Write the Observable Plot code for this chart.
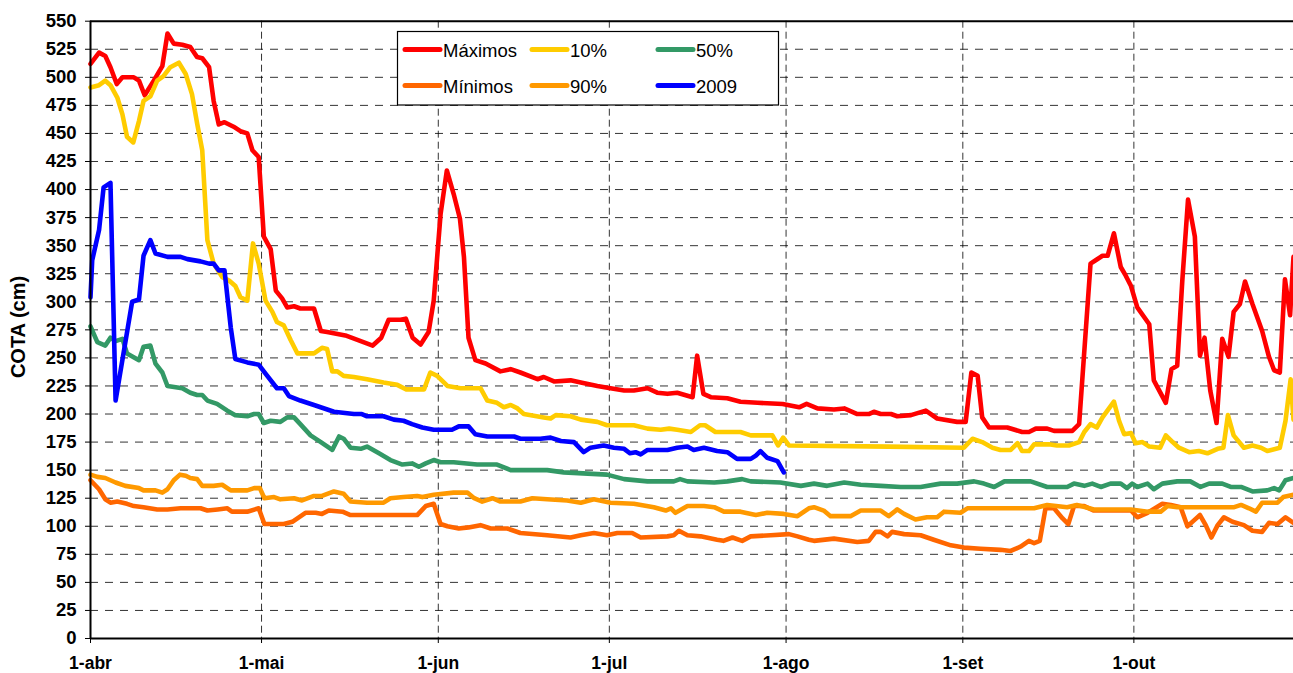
<!DOCTYPE html>
<html>
<head>
<meta charset="utf-8">
<script src="https://cdn.jsdelivr.net/npm/d3@7"></script>
<script src="https://cdn.jsdelivr.net/npm/@observablehq/plot@0.6"></script>
<style>
  html, body { margin: 0; padding: 0; background: #fff; }
  #chart svg { display: block; }
</style>
</head>
<body>
<div id="chart"></div>
<script>
// Day offsets counted from 1 April
const monthDays = [0, 30, 61, 91, 122, 153, 183];
const monthLabels = ["1-abr", "1-mai", "1-jun", "1-jul", "1-ago", "1-set", "1-out"];
const yTicks = d3.range(0, 551, 25);

const maxDays = [0,1.5,2.6,3.5,4.6,5.6,7.6,8.5,9.5,11.1,12.6,13.5,14.6,16.1,17.5,18.7,19.6,20.8,21.6,22.5,23.5,25.1,26.3,27.5,28.4,29.5,30.4,31.6,32.5,33.6,34.5,35.7,36.8,39.2,40.4,41.5,44.7,47.4,49.5,51,52.3,54.4,55.3,56.5,57.9,59.3,60.2,61.4,62.5,63.7,64.8,65.5,66.3,67.5,69.3,71.9,73.7,75.4,78.4,79.5,81.3,84.2,86,88.9,91.2,93.6,95.3,97.7,99.4,101.2,102.9,105.6,106.4,107.5,108.8,111.7,114,117,121.4,124.3,125.6,127.5,130.4,132.2,134.5,136.5,137.4,138.6,140.4,141.5,143.9,146.5,148.5,152,153.5,154.5,155.6,156.4,157.6,160.8,163.4,164.6,165.8,167.8,169,172.2,173.4,175.4,176.3,177.5,178.4,179.5,180.7,181.6,182.5,183.6,185.7,186.5,188.6,189.6,190.6,191.5,192.5,193.7,194.6,195.4,196.4,197.5,198.5,199.6,200.5,201.6,202.5,203.8,205.5,206.7,207.6,208.6,209.5,210.4,211];
const maxVals = [512,522,519,509,494,500,500,497,484,497,510,539,530,529,527,518,517,509,479,458,460,456,452,450,435,429,358,347,310,303,295,296,294,294,274,273,270,265,261,268,284,284,285,268,262,273,301,378,417,396,374,340,268,248,245,238,240,237,231,233,229,230,228,225,223,221,221,223,219,218,219,215,252,218,215,214,211,210,209,206,209,205,204,205,200,200,202,200,200,198,199,203,196,193,193,237,234,197,188,188,184,184,187,187,185,185,191,334,337,341,341,361,331,323,314,295,280,230,210,240,243,319,391,358,252,268,221,192,267,251,291,298,318,298,274,251,239,237,320,288,340];

const p10Days = [0,1.5,2.6,3.5,4.7,5.6,6.4,7.5,8.5,9.3,10.5,11.7,12.8,14,15.5,16.7,17.8,18.7,19.6,20.5,21.6,23.1,24.3,25.4,26.3,27.5,28.5,29.5,30.7,31.9,32.7,33.9,35.1,36.3,39.2,40.6,41.5,42.4,43.3,44.4,46.2,48.5,51.4,53.8,55.3,58.5,59.6,60.8,62.6,64.9,68.4,69.6,71.3,72.5,73.7,74.9,76,79.5,80.7,81.6,84.2,86,88.9,90.6,95.3,97.7,100,101.5,102.9,105.3,106.9,107.8,109.6,114,115.8,119.6,120.6,121.5,122.5,140,153.2,154.7,156.4,158.2,159.6,161.4,162.6,163.4,164.6,165.5,168.1,169.5,171.6,173.4,174.3,175.4,176.5,177.5,179.5,180.4,181.3,182.5,183.3,184.5,185.7,187.6,188.6,189.8,190.9,192.7,194.4,195.9,197.7,198.7,199.5,200.5,202.3,203.8,205.3,206.4,208.6,209.6,210.5,211];
const p10Vals = [491,493,497,493,482,467,447,442,461,479,483,497,501,509,513,503,485,459,435,355,334,322,319,314,304,301,352,334,301,291,282,279,266,254,254,259,258,238,238,234,233,231,228,226,222,222,237,234,225,223,223,212,210,206,208,205,200,197,196,199,198,195,193,190,190,187,186,187,186,184,190,190,184,184,181,181,172,179,172,171,170,178,175,170,168,168,174,167,167,173,173,172,172,175,184,191,188,197,211,194,182,183,174,175,171,170,181,175,170,166,167,165,169,170,199,181,170,172,170,167,170,194,231,195];

const p50Days = [0,1.2,2.6,3.5,4.4,5.6,6.4,8.5,9.3,10.5,11.4,12.6,13.5,16.1,17.5,18.7,19.6,20.5,22.2,24,25.4,27.5,28.7,29.5,30.4,31.6,33.3,34.5,35.7,36.8,38.6,40.4,42.4,43.6,44.4,45.6,47.4,48.5,50.6,52.6,54.7,56.4,57.6,58.8,60.2,61.4,63.7,67.8,71.3,73.7,80.1,83,90.6,93.6,97.7,102.3,103.4,104.7,109.4,111.7,114.3,115.8,121,124.6,126.9,129.2,132.2,135.1,138.6,142.1,145.6,149.1,152,155,156.7,158.5,160.3,164.9,167.8,171.3,172.5,174.3,175.7,177.2,178.9,180.7,181.8,182.7,183.6,185.4,186.5,188,190.6,192.9,194.7,196.2,198.5,200,201.8,203.8,206.4,207.6,208.5,209.6,211];
const p50Vals = [278,264,261,268,265,267,254,248,260,261,245,237,225,223,219,217,217,212,209,203,199,198,200,200,192,194,193,197,197,191,181,175,168,180,178,170,169,171,165,159,155,156,153,156,159,157,157,155,155,150,150,148,146,142,140,140,142,140,139,140,142,140,139,136,138,136,139,137,136,135,135,138,138,140,138,135,140,140,135,135,138,136,138,135,138,138,134,138,135,138,133,138,140,140,135,138,138,135,135,131,132,134,132,141,143];

const p90Days = [0,1.2,2.6,4.4,6.1,8.5,9.3,11.4,12.6,13.5,14.6,15.7,16.7,17.5,18.7,19.6,21.6,23.1,24.6,27.5,28.7,29.7,30.5,32.2,33.3,35.7,37.1,39.2,40.6,42.7,44.4,45.6,48.5,51.4,52.6,54.9,57.3,58.2,60.2,63.7,66.1,67.3,68.7,70.5,71.9,75.4,77.5,80.1,83.6,86,88.3,91.2,95.3,98.8,100.9,101.8,102.6,104.7,107.6,109.4,111.1,114,116.7,118.7,121.6,124,126,126.9,128.6,129.8,133.3,135.1,138.6,140,141.5,142.7,144.7,146.7,148.5,149.7,152.6,153.8,157.3,165.5,167.8,171.3,173,176,182.5,185.4,187.7,188.9,190.6,193.5,200.6,201.8,203.2,204.4,205.5,208.2,209.2,211];
const p90Vals = [146,144,143,139,136,134,132,132,130,133,141,146,145,143,142,136,136,137,132,132,134,134,125,126,124,125,123,127,127,131,129,122,121,121,125,126,127,126,128,130,130,125,122,125,122,122,125,124,123,121,124,121,120,117,114,116,112,118,118,117,113,113,110,112,111,109,116,117,114,109,109,114,114,109,115,111,106,108,108,113,112,116,116,116,119,117,119,115,115,113,113,118,117,117,117,119,116,113,121,121,126,128];

const minDays = [0,1.5,2.6,3.5,4.7,6.4,7.6,9.3,11.7,13.5,15.8,19.3,20.5,22.3,24,24.8,27.5,29.5,30.5,33.9,35.4,37.7,39.5,40.6,41.8,44.2,45.6,57.3,58.8,60.2,61.4,62.6,64.6,66.3,68.4,70.2,73.1,75.4,80.1,84.2,86,88.3,90.6,92.4,95,96.5,101.2,102.3,103.2,104.7,107,109.9,111,112.6,114.3,115.8,119.3,122.5,124,126,126.9,130.4,134.5,136.5,137.7,138.6,139.8,140.6,142.7,145.6,147.9,150.9,153.2,156.1,159.6,161.4,163.2,164.6,165.5,166.5,167.5,169,170.5,171.5,172.5,174.3,176,182.5,183.6,185.4,188,189.5,191.2,192.4,193.5,194.6,195.6,196.6,197.7,198.8,200.3,202.3,203.8,205.5,206.7,208.2,209.6,211];
const minVals = [141,133,124,121,122,120,118,117,115,115,116,116,114,115,116,113,113,116,102,102,104,112,112,111,114,113,110,110,118,120,102,100,98,99,101,98,98,94,92,90,92,94,92,94,94,90,91,92,96,92,91,88,87,90,87,91,92,93,91,88,87,89,86,87,95,95,91,95,93,92,88,83,81,80,79,78,82,87,85,87,116,116,107,102,118,118,114,114,108,112,120,119,117,100,105,110,101,90,101,108,104,101,96,95,103,102,108,103];

const y2009Days = [0,0.3,1.5,2.3,3.5,4.4,7.3,8.5,9.3,10.5,11.4,13.5,15.8,17,19.3,20.8,21.6,22.5,23.5,24.6,25.4,27.5,29.5,30.7,32.7,33.9,34.8,36.8,39.2,42.7,46.2,47.6,48.5,51.4,53.2,54.9,56.4,58.2,60.2,63.4,64.6,66.3,67.5,69.6,74.3,75.4,78.9,80.7,82.5,84.8,86.5,87.7,90,91.8,93.6,94.6,95.6,96.5,97.7,101.2,102.9,104.7,105.8,107.6,109.9,111.7,113.4,115.8,116.7,117.5,118.7,120.5,121.6];
const y2009Vals = [304,337,364,402,406,212,300,302,341,355,343,340,340,338,336,334,334,328,328,277,249,246,244,236,223,223,216,212,208,202,200,200,198,198,195,194,191,188,186,186,189,189,182,180,180,178,178,179,176,175,166,170,172,170,169,165,166,164,168,168,170,171,168,170,167,166,160,160,163,167,161,158,148];

const seriesNames = ["Máximos", "Mínimos", "10%", "90%", "50%", "2009"];
const seriesColors = ["#FF0000", "#FF6600", "#FFCC00", "#FF9900", "#339966", "#0000FF"];

function rows(days, vals) { return days.map((d, i) => ({day: d, v: vals[i]})); }
const lineOpts = (color) => ({x: "day", y: "v", stroke: color, strokeWidth: 4.6, strokeLinejoin: "round", strokeLinecap: "round"});

const chart = Plot.plot({
  width: 1293,
  height: 673,
  marginLeft: 90,
  marginRight: 0,
  marginTop: 20.7,
  marginBottom: 35,
  x: {domain: [0, 211], axis: null},
  y: {domain: [0, 550], axis: null},
  style: {fontFamily: "'Liberation Sans', Arial, sans-serif", background: "#fff", color: "#000"},
  marks: [
    Plot.gridY(yTicks.filter(v => v > 0 && v < 550), {stroke: "#000", strokeOpacity: 0.8, strokeWidth: 1, strokeDasharray: "8,7"}),
    Plot.gridX(monthDays.slice(1), {stroke: "#000", strokeOpacity: 0.8, strokeWidth: 1, strokeDasharray: "7,4"}),
    Plot.line(rows(minDays, minVals), lineOpts(seriesColors[1])),
    Plot.line(rows(maxDays, maxVals), lineOpts(seriesColors[0])),
    Plot.line(rows(p90Days, p90Vals), lineOpts(seriesColors[3])),
    Plot.line(rows(p10Days, p10Vals), lineOpts(seriesColors[2])),
    Plot.line(rows(p50Days, p50Vals), lineOpts(seriesColors[4])),
    Plot.line(rows(y2009Days, y2009Vals), lineOpts(seriesColors[5])),
    Plot.ruleY([550], {stroke: "#000", strokeWidth: 2}),
    Plot.ruleY([0], {stroke: "#000", strokeWidth: 2}),
    Plot.ruleX([0], {stroke: "#000", strokeWidth: 2}),
    Plot.axisY(yTicks, {tickSize: 5, tickPadding: 9, fontSize: 18.5, fontWeight: "bold", label: null, stroke: "#000"}),
    Plot.axisX(monthDays, {tickSize: 5, tickPadding: 13, fontSize: 17.5, fontWeight: "bold", label: null,
      tickFormat: d => monthLabels[monthDays.indexOf(d)]})
  ]
});

document.getElementById("chart").appendChild(chart);

const svg = d3.select(chart);
svg.selectAll("text").attr("font-weight", "bold").attr("fill", "#000");

// Y axis title
svg.append("text")
  .attr("transform", "translate(25,327) rotate(-90)")
  .attr("text-anchor", "middle")
  .attr("font-family", "'Liberation Sans', Arial, sans-serif")
  .attr("font-size", 20)
  .attr("font-weight", "bold")
  .attr("fill", "#000")
  .text("COTA (cm)");

// Legend (2 rows x 3 columns, column-major)
const lg = svg.append("g").attr("font-family", "'Liberation Sans', Arial, sans-serif").attr("text-anchor", "start");
lg.append("rect").attr("x", 397.5).attr("y", 31.5).attr("width", 381).attr("height", 73.5)
  .attr("fill", "#fff").attr("stroke", "#000").attr("stroke-width", 1.2);
const colX = [405, 532, 658];
const rowY = [49.5, 85.5];
seriesNames.forEach((name, i) => {
  const c = Math.floor(i / 2), r = i % 2;
  const x0 = colX[c], y0 = rowY[r];
  lg.append("line").attr("x1", x0).attr("x2", x0 + 35).attr("y1", y0).attr("y2", y0)
    .attr("stroke", seriesColors[i]).attr("stroke-width", 5).attr("stroke-linecap", "round");
  lg.append("text").attr("x", x0 + 38).attr("y", y0 + 7).attr("text-anchor", "start")
    .attr("font-size", 18.5).attr("fill", "#000").attr("font-weight", "normal").text(name);
});
</script>
</body>
</html>
